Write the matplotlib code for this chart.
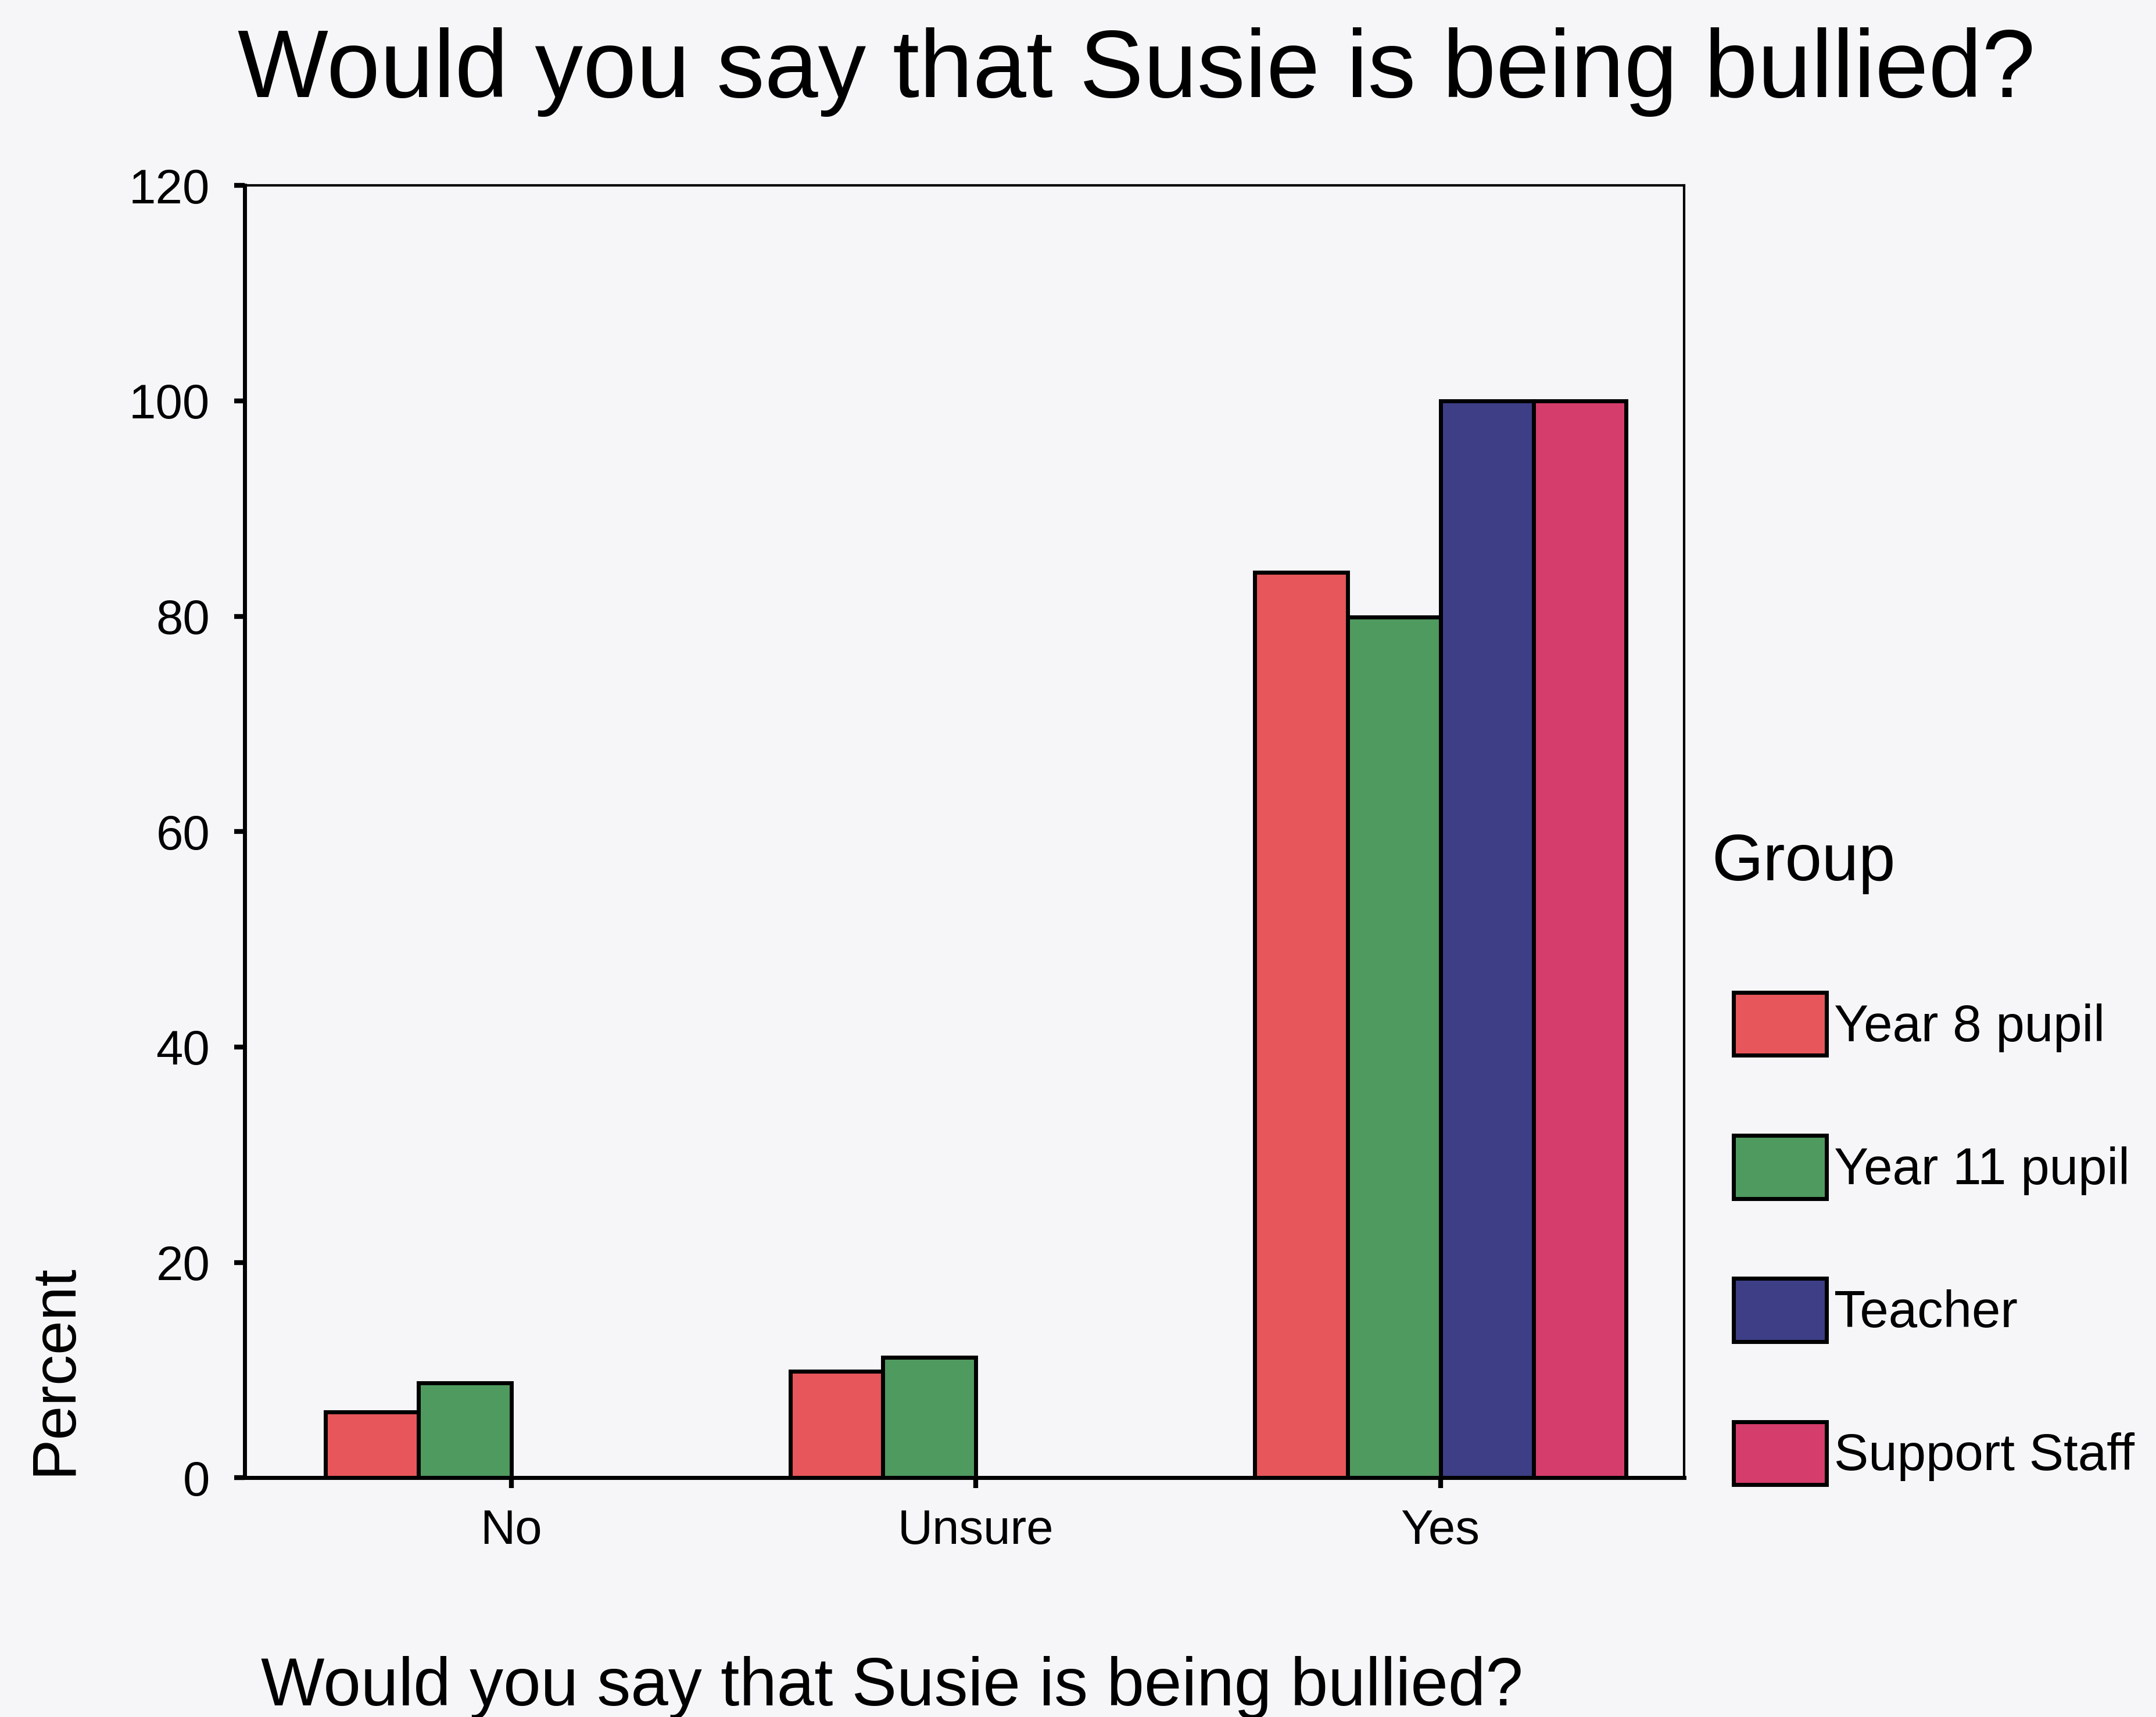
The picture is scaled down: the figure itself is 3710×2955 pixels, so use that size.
import numpy as np
import matplotlib
matplotlib.use("Agg")
from matplotlib import pyplot as plt
from matplotlib.patches import Patch

plt.rcParams['font.family'] = ['Liberation Sans', 'DejaVu Sans']

categorias = ['No', 'Unsure', 'Yes']
grupos = ['Year 8 pupil', 'Year 11 pupil', 'Teacher', 'Support Staff']
year8 = [6.1, 9.9, 84.1]
year11 = [8.8, 11.2, 79.9]
teacher = [0, 0, 100]
support = [0, 0, 100]
colores = ['#e6565a', '#4f9a5f', '#3d3e86', '#d53d6c']

FONDO = '#f6f6f9'

fig = plt.figure(figsize=(37.1, 29.55), dpi=100, facecolor=FONDO)
ax = fig.add_axes([0.1135, 0.1393, 0.6675, 0.7527], facecolor=FONDO)

x = np.arange(len(categorias))
ancho = 0.2
series = [year8, year11, teacher, support]
for i, (valores, color) in enumerate(zip(series, colores)):
    pos = x + (i - 1.5) * ancho
    for p, v in zip(pos, valores):
        if v > 0:
            ax.bar(p, v, ancho, color=color, edgecolor='black', linewidth=5)

ax.set_xlim(-0.574, 2.524)
ax.set_ylim(0, 120)
ax.set_yticks(range(0, 121, 20))
ax.set_xticks(x)
ax.set_xticklabels(categorias)
ax.tick_params(axis='both', length=13, width=6, labelsize=60, direction='out')
ax.tick_params(axis='y', pad=30)
ax.tick_params(axis='x', pad=25)

for lado in ['left', 'bottom']:
    ax.spines[lado].set_linewidth(5)
for lado in ['top', 'right']:
    ax.spines[lado].set_linewidth(3)

fig.text(0.527, 0.958, 'Would you say that Susie is being bullied?',
         ha='center', va='center', fontsize=119)
fig.text(0.121, 0.017, 'Would you say that Susie is being bullied?',
         ha='left', va='center', fontsize=83.5)
fig.text(0.0255, 0.2025, 'Percent', rotation=90, ha='center', va='center',
         fontsize=76)
fig.text(0.794, 0.497, 'Group', ha='left', va='center', fontsize=82)

manejadores = [Patch(facecolor=c, edgecolor='black', linewidth=5, label=g)
               for c, g in zip(colores, grupos)]
leg = fig.legend(handles=manejadores, loc='upper left',
                 bbox_to_anchor=(0.804, 0.422), frameon=False,
                 fontsize=64, handlelength=1.8, handleheight=1.5,
                 handletextpad=0.15, labelspacing=1.55, borderpad=0,
                 borderaxespad=0)

fig.savefig('out.png', dpi=100, facecolor=FONDO)
